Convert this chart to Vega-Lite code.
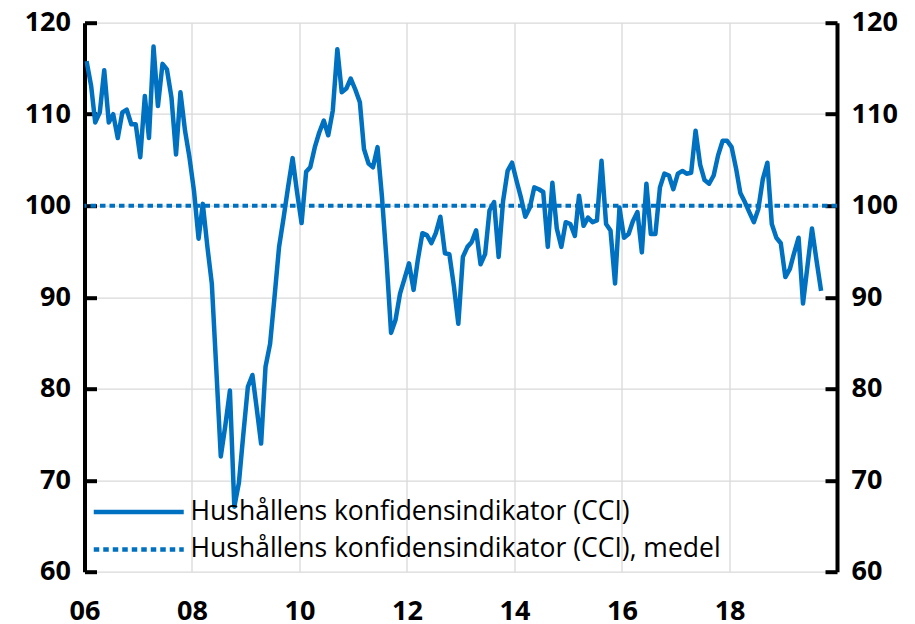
{
  "$schema": "https://vega.github.io/schema/vega-lite/v6.json",
  "width": 752.5,
  "height": 549,
  "autosize": {"type": "none"},
  "padding": {"left": 84.5, "top": 22.7, "right": 78, "bottom": 52.3},
  "background": "white",
  "config": {"view": {"stroke": null}, "font": "Open Sans"},
  "datasets": {
    "cci": [
      {"date": "2006-01-15", "cci": 115.8}, {"date": "2006-02-15", "cci": 113.1}, {"date": "2006-03-15", "cci": 109.1}, {"date": "2006-04-15", "cci": 110.2},
      {"date": "2006-05-15", "cci": 114.8}, {"date": "2006-06-15", "cci": 109.1}, {"date": "2006-07-15", "cci": 110.0}, {"date": "2006-08-15", "cci": 107.4},
      {"date": "2006-09-15", "cci": 110.2}, {"date": "2006-10-15", "cci": 110.5}, {"date": "2006-11-15", "cci": 108.9}, {"date": "2006-12-15", "cci": 108.9},
      {"date": "2007-01-15", "cci": 105.3}, {"date": "2007-02-15", "cci": 112.0}, {"date": "2007-03-15", "cci": 107.4}, {"date": "2007-04-15", "cci": 117.4},
      {"date": "2007-05-15", "cci": 110.9}, {"date": "2007-06-15", "cci": 115.5}, {"date": "2007-07-15", "cci": 114.9}, {"date": "2007-08-15", "cci": 111.8},
      {"date": "2007-09-15", "cci": 105.6}, {"date": "2007-10-15", "cci": 112.4}, {"date": "2007-11-15", "cci": 108.2}, {"date": "2007-12-15", "cci": 105.3},
      {"date": "2008-01-15", "cci": 101.6}, {"date": "2008-02-15", "cci": 96.4}, {"date": "2008-03-15", "cci": 100.2}, {"date": "2008-04-15", "cci": 95.5},
      {"date": "2008-05-15", "cci": 91.5}, {"date": "2008-06-15", "cci": 82.0}, {"date": "2008-07-15", "cci": 72.6}, {"date": "2008-08-15", "cci": 76.0},
      {"date": "2008-09-15", "cci": 79.8}, {"date": "2008-10-15", "cci": 67.1}, {"date": "2008-11-15", "cci": 69.7}, {"date": "2008-12-15", "cci": 75.0},
      {"date": "2009-01-15", "cci": 80.2}, {"date": "2009-02-15", "cci": 81.5}, {"date": "2009-03-15", "cci": 78.0}, {"date": "2009-04-15", "cci": 74.0},
      {"date": "2009-05-15", "cci": 82.4}, {"date": "2009-06-15", "cci": 84.9}, {"date": "2009-07-15", "cci": 90.0}, {"date": "2009-08-15", "cci": 95.5},
      {"date": "2009-09-15", "cci": 98.7}, {"date": "2009-10-15", "cci": 102.0}, {"date": "2009-11-15", "cci": 105.2}, {"date": "2009-12-15", "cci": 101.5},
      {"date": "2010-01-15", "cci": 98.1}, {"date": "2010-02-15", "cci": 103.7}, {"date": "2010-03-15", "cci": 104.2}, {"date": "2010-04-15", "cci": 106.4},
      {"date": "2010-05-15", "cci": 108.0}, {"date": "2010-06-15", "cci": 109.3}, {"date": "2010-07-15", "cci": 107.7}, {"date": "2010-08-15", "cci": 110.4},
      {"date": "2010-09-15", "cci": 117.1}, {"date": "2010-10-15", "cci": 112.4}, {"date": "2010-11-15", "cci": 112.8}, {"date": "2010-12-15", "cci": 113.9},
      {"date": "2011-01-15", "cci": 112.7}, {"date": "2011-02-15", "cci": 111.3}, {"date": "2011-03-15", "cci": 106.2}, {"date": "2011-04-15", "cci": 104.6},
      {"date": "2011-05-15", "cci": 104.2}, {"date": "2011-06-15", "cci": 106.4}, {"date": "2011-07-15", "cci": 101.0}, {"date": "2011-08-15", "cci": 94.1},
      {"date": "2011-09-15", "cci": 86.1}, {"date": "2011-10-15", "cci": 87.5}, {"date": "2011-11-15", "cci": 90.4}, {"date": "2011-12-15", "cci": 92.0},
      {"date": "2012-01-15", "cci": 93.7}, {"date": "2012-02-15", "cci": 90.8}, {"date": "2012-03-15", "cci": 94.1}, {"date": "2012-04-15", "cci": 97.0},
      {"date": "2012-05-15", "cci": 96.8}, {"date": "2012-06-15", "cci": 95.9}, {"date": "2012-07-15", "cci": 97.0}, {"date": "2012-08-15", "cci": 98.8},
      {"date": "2012-09-15", "cci": 94.8}, {"date": "2012-10-15", "cci": 94.7}, {"date": "2012-11-15", "cci": 91.2}, {"date": "2012-12-15", "cci": 87.1},
      {"date": "2013-01-15", "cci": 94.4}, {"date": "2013-02-15", "cci": 95.5}, {"date": "2013-03-15", "cci": 96.0}, {"date": "2013-04-15", "cci": 97.3},
      {"date": "2013-05-15", "cci": 93.6}, {"date": "2013-06-15", "cci": 94.7}, {"date": "2013-07-15", "cci": 99.5}, {"date": "2013-08-15", "cci": 100.4},
      {"date": "2013-09-15", "cci": 94.4}, {"date": "2013-10-15", "cci": 100.5}, {"date": "2013-11-15", "cci": 103.8}, {"date": "2013-12-15", "cci": 104.7},
      {"date": "2014-01-15", "cci": 102.7}, {"date": "2014-02-15", "cci": 100.8}, {"date": "2014-03-15", "cci": 98.8}, {"date": "2014-04-15", "cci": 99.8},
      {"date": "2014-05-15", "cci": 102.0}, {"date": "2014-06-15", "cci": 101.8}, {"date": "2014-07-15", "cci": 101.5}, {"date": "2014-08-15", "cci": 95.5},
      {"date": "2014-09-15", "cci": 102.5}, {"date": "2014-10-15", "cci": 97.5}, {"date": "2014-11-15", "cci": 95.5}, {"date": "2014-12-15", "cci": 98.2},
      {"date": "2015-01-15", "cci": 98.0}, {"date": "2015-02-15", "cci": 96.7}, {"date": "2015-03-15", "cci": 101.1}, {"date": "2015-04-15", "cci": 97.8},
      {"date": "2015-05-15", "cci": 98.7}, {"date": "2015-06-15", "cci": 98.2}, {"date": "2015-07-15", "cci": 98.4}, {"date": "2015-08-15", "cci": 104.9},
      {"date": "2015-09-15", "cci": 98.0}, {"date": "2015-10-15", "cci": 97.3}, {"date": "2015-11-15", "cci": 91.5}, {"date": "2015-12-15", "cci": 99.8},
      {"date": "2016-01-15", "cci": 96.5}, {"date": "2016-02-15", "cci": 96.9}, {"date": "2016-03-15", "cci": 98.3}, {"date": "2016-04-15", "cci": 99.3},
      {"date": "2016-05-15", "cci": 94.9}, {"date": "2016-06-15", "cci": 102.4}, {"date": "2016-07-15", "cci": 96.9}, {"date": "2016-08-15", "cci": 96.9},
      {"date": "2016-09-15", "cci": 102.0}, {"date": "2016-10-15", "cci": 103.5}, {"date": "2016-11-15", "cci": 103.3}, {"date": "2016-12-15", "cci": 101.8},
      {"date": "2017-01-15", "cci": 103.5}, {"date": "2017-02-15", "cci": 103.8}, {"date": "2017-03-15", "cci": 103.5}, {"date": "2017-04-15", "cci": 103.6},
      {"date": "2017-05-15", "cci": 108.2}, {"date": "2017-06-15", "cci": 104.5}, {"date": "2017-07-15", "cci": 102.8}, {"date": "2017-08-15", "cci": 102.4},
      {"date": "2017-09-15", "cci": 103.3}, {"date": "2017-10-15", "cci": 105.5}, {"date": "2017-11-15", "cci": 107.1}, {"date": "2017-12-15", "cci": 107.1},
      {"date": "2018-01-15", "cci": 106.4}, {"date": "2018-02-15", "cci": 104.0}, {"date": "2018-03-15", "cci": 101.4}, {"date": "2018-04-15", "cci": 100.4},
      {"date": "2018-05-15", "cci": 99.3}, {"date": "2018-06-15", "cci": 98.2}, {"date": "2018-07-15", "cci": 99.6}, {"date": "2018-08-15", "cci": 102.9},
      {"date": "2018-09-15", "cci": 104.7}, {"date": "2018-10-15", "cci": 98.0}, {"date": "2018-11-15", "cci": 96.5}, {"date": "2018-12-15", "cci": 95.9},
      {"date": "2019-01-15", "cci": 92.2}, {"date": "2019-02-15", "cci": 93.1}, {"date": "2019-03-15", "cci": 94.8}, {"date": "2019-04-15", "cci": 96.5},
      {"date": "2019-05-15", "cci": 89.3}, {"date": "2019-06-15", "cci": 93.5}, {"date": "2019-07-15", "cci": 97.5}, {"date": "2019-08-15", "cci": 94.0},
      {"date": "2019-09-15", "cci": 90.7}
    ],
    "medel": [{"medel": 100}]
  },
  "layer": [
    {
      "data": {"name": "cci"},
      "mark": {"type": "line", "strokeWidth": 4.5, "strokeJoin": "round", "clip": true},
      "encoding": {
        "x": {
          "field": "date", "type": "temporal",
          "scale": {"type": "utc", "domain": [{"year": 2006, "month": 1, "date": 1, "utc": true}, {"year": 2020, "month": 1, "date": 1, "utc": true}]},
          "axis": {
            "title": null,
            "values": [
              {"year": 2006, "month": 1, "date": 1, "utc": true}, {"year": 2008, "month": 1, "date": 1, "utc": true},
              {"year": 2010, "month": 1, "date": 1, "utc": true}, {"year": 2012, "month": 1, "date": 1, "utc": true},
              {"year": 2014, "month": 1, "date": 1, "utc": true}, {"year": 2016, "month": 1, "date": 1, "utc": true},
              {"year": 2018, "month": 1, "date": 1, "utc": true}
            ],
            "format": "%y",
            "grid": true, "gridColor": "#D9D9D9", "gridWidth": 1.3,
            "domain": false, "ticks": false,
            "labelPadding": 27, "labelFont": "Open Sans", "labelFontSize": 27, "labelFontWeight": "bold", "labelColor": "black",
            "labelFlush": false, "labelOverlap": false
          }
        },
        "y": {
          "field": "cci", "type": "quantitative",
          "scale": {"domain": [60, 120], "nice": false, "zero": false},
          "axis": {
            "orient": "left", "title": null, "values": [60, 70, 80, 90, 100, 110, 120],
            "grid": true, "gridColor": "#D9D9D9", "gridWidth": 1.3,
            "domainColor": "black", "domainWidth": 4,
            "tickColor": "black", "tickWidth": 4, "tickSize": -12,
            "labelPadding": 26, "labelFont": "Open Sans", "labelFontSize": 27, "labelFontWeight": "bold", "labelColor": "black"
          }
        },
        "color": {
          "datum": "Hushållens konfidensindikator (CCI)",
          "scale": {"domain": ["Hushållens konfidensindikator (CCI)", "Hushållens konfidensindikator (CCI), medel"], "range": ["#0070C0", "#0070C0"]},
          "legend": {
            "title": null, "orient": "none", "legendX": 41, "legendY": 476, "direction": "vertical",
            "padding": 0, "symbolType": "M-9,0H9", "symbolSize": 100, "symbolStrokeWidth": 4.5,
            "labelFont": "Open Sans", "labelFontSize": 26.5, "labelColor": "black", "labelOffset": 38.5, "labelLimit": 0,
            "rowPadding": 10.5,
            "encode": {"symbols": {"update": {"strokeDash": {"signal": "indexof(datum.value, 'medel') >= 0 ? [5.5, 4] : [1, 0]"}}}}
          }
        }
      }
    },
    {
      "data": {"name": "medel"},
      "mark": {"type": "rule", "strokeWidth": 4, "strokeDash": [5.5, 4]},
      "encoding": {
        "y": {
          "field": "medel", "type": "quantitative",
          "axis": {
            "orient": "right", "title": null, "values": [60, 70, 80, 90, 100, 110, 120],
            "grid": false,
            "domainColor": "black", "domainWidth": 4,
            "tickColor": "black", "tickWidth": 4, "tickSize": -12,
            "labelPadding": 26, "labelFont": "Open Sans", "labelFontSize": 27, "labelFontWeight": "bold", "labelColor": "black"
          }
        },
        "color": {"datum": "Hushållens konfidensindikator (CCI), medel"}
      }
    }
  ],
  "resolve": {"axis": {"y": "independent"}}
}
